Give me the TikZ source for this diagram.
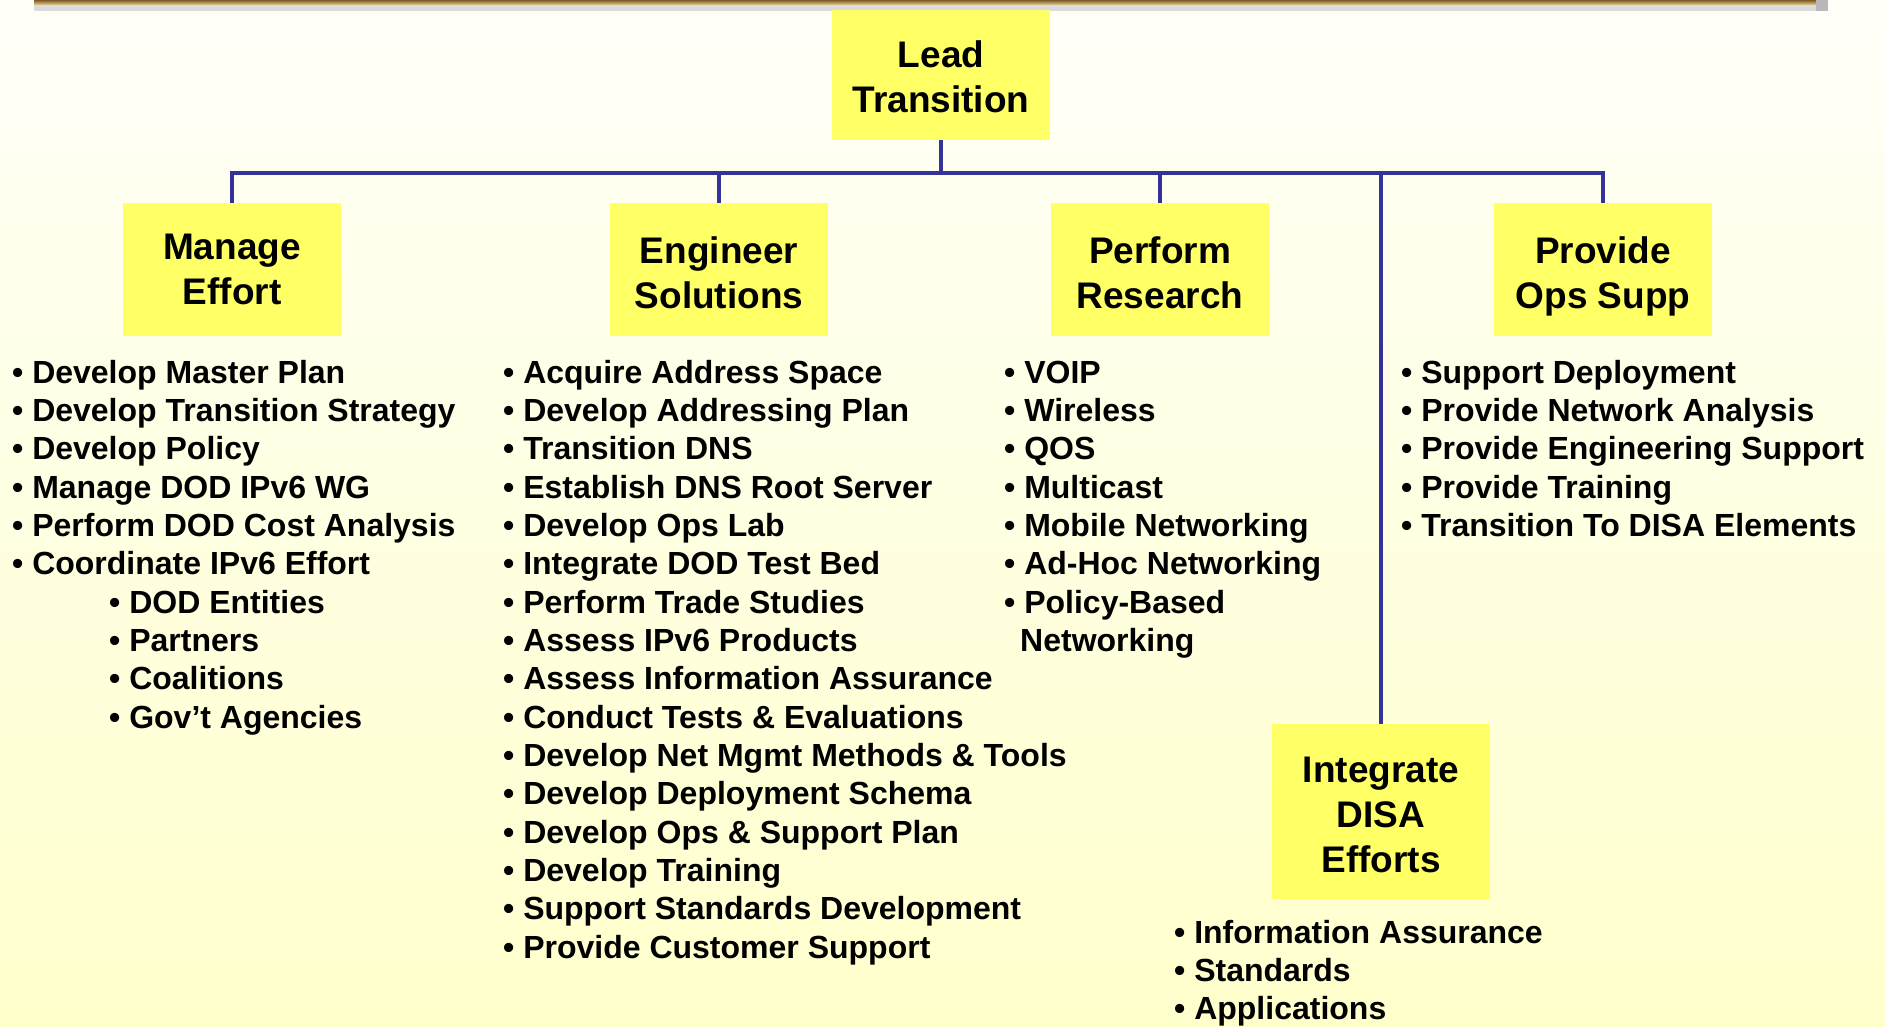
\documentclass[tikz,border=0pt]{standalone}
\usepackage{fontspec}
\setmainfont{Liberation Sans}
\definecolor{boxyellow}{RGB}{255,255,102}
\definecolor{linkblue}{RGB}{51,51,153}
\definecolor{bgtop}{RGB}{255,255,248}
\definecolor{bgbot}{RGB}{255,255,204}
\definecolor{goldA}{RGB}{125,92,38}
\definecolor{goldB}{RGB}{200,160,85}
\definecolor{goldC}{RGB}{232,208,150}
\begin{document}
\begin{tikzpicture}[x=1pt,y=-1pt,
  box/.style={fill=boxyellow, draw=none, minimum width=218pt, minimum height=131pt,
    inner sep=0pt, align=center, font=\fontsize{37}{45}\selectfont\bfseries},
  conn/.style={draw=linkblue, line width=3.5pt},
  item/.style={anchor=base west, inner sep=0pt, font=\fontsize{32}{38}\selectfont\bfseries}]
% background
\shade[top color=bgtop, bottom color=bgbot] (0,0) rectangle (1885,1026);
\useasboundingbox (0,0) rectangle (1885,1026);
% top band
\shade[top color=goldA, middle color=goldB, bottom color=goldC] (34,0) rectangle (1822,5);
\fill[gray!28] (34,5) rectangle (1822,11);
\fill[gray!55] (1816,0) rectangle (1828,11);
% boxes
\node[box, minimum height=130pt] (lead) at (941,75)
  {\rule{0pt}{39pt}Lead\\Transition\rule[-10pt]{0pt}{10pt}};
\node[box, minimum height=133pt] (manage) at (232,269.5)
  {\rule{0pt}{34pt}Manage\\Effort\rule[-10pt]{0pt}{10pt}};
\node[box, minimum height=133pt] (engineer) at (719,269.5)
  {\rule{0pt}{42pt}Engineer\\Solutions\rule[-10pt]{0pt}{10pt}};
\node[box, minimum height=133pt] (research) at (1160,269.5)
  {\rule{0pt}{42pt}Perform\\Research\rule[-10pt]{0pt}{10pt}};
\node[box, minimum height=133pt] (opsupp) at (1603,269.5)
  {\rule{0pt}{42pt}Provide\\Ops Supp\rule[-10pt]{0pt}{10pt}};
\node[box, minimum height=175pt] (disa) at (1381,811.5)
  {\rule{0pt}{41pt}Integrate\\DISA\\Efforts\rule[-10pt]{0pt}{10pt}};
% connectors
\coordinate (bus) at (941,173);
\draw[conn] (lead.south) -- (bus);
\draw[conn] (manage.north) -- (manage.north |- bus) -- (opsupp.north |- bus) -- (opsupp.north);
\draw[conn] (engineer.north) -- (engineer.north |- bus);
\draw[conn] (research.north) -- (research.north |- bus);
\draw[conn] (disa.north) -- (disa.north |- bus);
% lists
\foreach \t [count=\i from 0] in {Develop Master Plan, Develop Transition Strategy, Develop Policy,
  Manage DOD IPv6 WG, Perform DOD Cost Analysis, Coordinate IPv6 Effort}
  \node[item] (me\i) at (12,{383+38.35*\i}) {• \t};
\foreach \t [count=\i from 6] in {DOD Entities, Partners, Coalitions, Gov’t Agencies}
  \node[item] (ms\i) at (109,{383+38.35*\i}) {• \t};
\foreach \t [count=\i from 0] in {Acquire Address Space, Develop Addressing Plan, Transition DNS,
  Establish DNS Root Server, Develop Ops Lab, Integrate DOD Test Bed, Perform Trade Studies,
  Assess IPv6 Products, Assess Information Assurance, Conduct Tests \& Evaluations,
  Develop Net Mgmt Methods \& Tools, Develop Deployment Schema, Develop Ops \& Support Plan,
  Develop Training, Support Standards Development, Provide Customer Support}
  \node[item] (es\i) at (503,{383+38.35*\i}) {• \t};
\foreach \t [count=\i from 0] in {VOIP, Wireless, QOS, Multicast, Mobile Networking,
  Ad-Hoc Networking, Policy-Based}
  \node[item] (pr\i) at (1004,{383+38.35*\i}) {• \t};
\node[item] (pr7) at (1020,{383+38.35*7}) {Networking};
\foreach \t [count=\i from 0] in {Support Deployment, Provide Network Analysis,
  Provide Engineering Support, Provide Training, Transition To DISA Elements}
  \node[item] (os\i) at (1401,{383+38.35*\i}) {• \t};
\foreach \t [count=\i from 0] in {Information Assurance, Standards, Applications}
  \node[item] (di\i) at (1174,{943+38.35*\i}) {• \t};
\end{tikzpicture}
\end{document}
